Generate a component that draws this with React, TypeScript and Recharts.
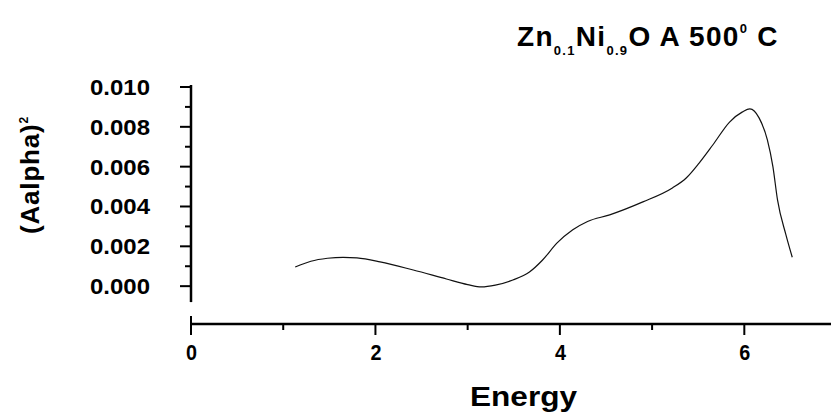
import React from 'react';
import { LineChart, Line, XAxis, YAxis, ReferenceLine, Customized } from 'recharts';

const energy = [1.13, 1.3, 1.48, 1.65, 1.8, 2.05, 2.41, 2.77, 3.0, 3.15, 3.3, 3.49, 3.67, 3.81, 3.97, 4.14, 4.3, 4.54, 4.9, 5.22, 5.37, 5.51, 5.66, 5.84, 5.98, 6.06, 6.16, 6.25, 6.31, 6.36, 6.45, 6.52];
const alpha2 = [0.00096, 0.00125, 0.0014, 0.00145, 0.00142, 0.00122, 0.00081, 0.00036, 0.00008, -0.00004, 0.00005, 0.00031, 0.00071, 0.0013, 0.00217, 0.00283, 0.00325, 0.00358, 0.00423, 0.00493, 0.00543, 0.00618, 0.0071, 0.00824, 0.00875, 0.0089, 0.00845, 0.00734, 0.006, 0.00433, 0.0026, 0.00145];
const xTicks = [0, 1, 2, 3, 4, 5, 6];
const xTickLabels = ['0', '', '2', '', '4', '', '6'];
const yTicks = [0, 0.001, 0.002, 0.003, 0.004, 0.005, 0.006, 0.007, 0.008, 0.009, 0.01];
const yTickLabels = ['0.000', '', '0.002', '', '0.004', '', '0.006', '', '0.008', '', '0.010'];

const data = energy.map((e, i) => ({ energy: e, value: alpha2[i] }));

const FONT = '"Liberation Sans", Arial, sans-serif';

const YTick = (props: any) => {
  const { x, y, index } = props;
  const label = yTickLabels[index];
  const major = label !== '';
  return (
    <g>
      <line x1={x - (major ? 11 : 6)} x2={x} y1={y} y2={y} stroke="#000" strokeWidth={2} />
      {major && (
        <text x={x - 101} y={y} dy={8} textLength={60} lengthAdjust="spacingAndGlyphs" fontFamily={FONT} fontWeight="bold" fontSize={22} fill="#000">
          {label}
        </text>
      )}
    </g>
  );
};

const XTick = (props: any) => {
  const { x, y, index } = props;
  const label = xTickLabels[index];
  const major = label !== '';
  return (
    <g>
      <line x1={x} x2={x} y1={index === 0 ? y - 8 : y} y2={y + (major ? 11 : 6)} stroke="#000" strokeWidth={2} />
      {major && (
        <text x={x - 5} y={y} dy={36} textLength={11} lengthAdjust="spacingAndGlyphs" fontFamily={FONT} fontWeight="bold" fontSize={22} fill="#000">
          {label}
        </text>
      )}
    </g>
  );
};

const Texts = () => (
  <g fontFamily={FONT} fontWeight="bold" fill="#000">
    <text x={517} y={46} fontSize={28} letterSpacing={1.3}>
      Zn<tspan fontSize={13} dy={9}>0.1</tspan>
      <tspan dy={-9}>Ni</tspan>
      <tspan fontSize={13} dy={9}>0.9</tspan>
      <tspan dy={-9}>O A 500</tspan>
      <tspan fontSize={13} dy={-13}>0</tspan>
      <tspan dy={13}> C</tspan>
    </text>
    <text x={470} y={406} fontSize={28} textLength={107} lengthAdjust="spacingAndGlyphs">Energy</text>
    <text transform="translate(39,175) rotate(-90)" fontSize={26} letterSpacing={0.8} textAnchor="middle">
      (Aalpha)<tspan fontSize={12} dy={-11}>2</tspan>
    </text>
  </g>
);

export default function App() {
  return (
    <div style={{ position: 'absolute', left: 0, top: 0, width: 831, height: 417, background: '#fff' }}>
      <LineChart width={831} height={417} data={data} margin={{ top: 85, right: 0, bottom: 0, left: 0 }}>
        <XAxis
          dataKey="energy"
          type="number"
          domain={[0, 6.94]}
          allowDataOverflow
          ticks={xTicks}
          interval={0}
          height={93}
          tickSize={0}
          tickMargin={0}
          tickLine={false}
          axisLine={{ stroke: '#000', strokeWidth: 2.5 }}
          tick={<XTick />}
        />
        <YAxis
          type="number"
          domain={[-0.0019, 0.0101]}
          allowDataOverflow
          ticks={yTicks}
          interval={0}
          width={191}
          tickSize={0}
          tickMargin={0}
          tickLine={false}
          axisLine={false}
          tick={<YTick />}
        />
        <ReferenceLine
          segment={[{ x: 0, y: -0.0008 }, { x: 0, y: 0.0101 }]}
          stroke="#000"
          strokeWidth={2.5}
          ifOverflow="visible"
        />
        <Line
          type="monotone"
          dataKey="value"
          stroke="#111"
          strokeWidth={1.2}
          dot={false}
          isAnimationActive={false}
        />
        <Customized component={Texts} />
      </LineChart>
    </div>
  );
}
